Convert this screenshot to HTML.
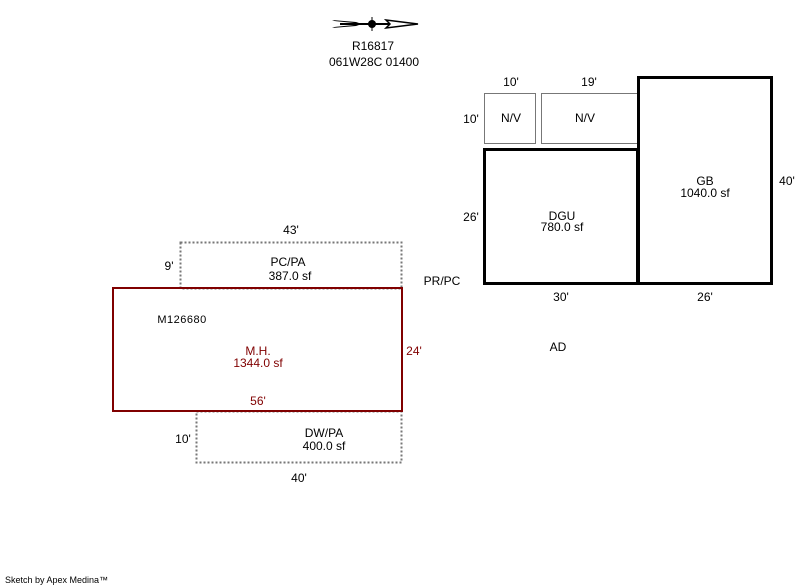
<!DOCTYPE html>
<html><head><meta charset="utf-8"><style>
html,body{margin:0;padding:0;background:#fff;}
svg{display:block;}
text{font-family:"Liberation Sans",sans-serif;font-size:12px;fill:#000;}
</style></head><body>
<svg width="800" height="587" viewBox="0 0 800 587" xmlns="http://www.w3.org/2000/svg">
<!-- north arrow -->
<g>
<path d="M332,20 L356,22 L362,24 L356,26 L332,28 L342,24 Z" fill="#000"/>
<path d="M334,21 L354,23 L354,25 L334,27 L340,24Z" fill="#fff"/>
<line x1="340" y1="24" x2="400" y2="24" stroke="#000" stroke-width="2"/>
<circle cx="372" cy="24" r="4" fill="#000"/>
<line x1="372" y1="17" x2="372" y2="31" stroke="#000" stroke-width="1"/>
<path d="M386,20 L418,24 L386,28 L390,24 Z" fill="#fff" stroke="#000" stroke-width="1.5"/>
</g>
<text x="373" y="50" text-anchor="middle">R16817</text>
<text x="374" y="66" text-anchor="middle">061W28C 01400</text>

<!-- PC/PA -->
<rect x="180.5" y="242.5" width="221" height="46" fill="none" stroke="#777" stroke-width="2" stroke-dasharray="2,2"/>
<text x="291" y="234" text-anchor="middle">43'</text>
<text x="169" y="270" text-anchor="middle">9'</text>
<text x="288" y="266" text-anchor="middle">PC/PA</text>
<text x="290" y="280" text-anchor="middle">387.0 sf</text>
<text x="442" y="285" text-anchor="middle">PR/PC</text>

<!-- DW/PA -->
<rect x="196.5" y="411.5" width="205" height="51" fill="none" stroke="#777" stroke-width="2" stroke-dasharray="2,2"/>
<text x="324" y="437" text-anchor="middle">DW/PA</text>
<text x="324" y="450" text-anchor="middle">400.0 sf</text>
<text x="183" y="443" text-anchor="middle">10'</text>
<text x="299" y="482" text-anchor="middle">40'</text>

<!-- M.H. -->
<rect x="113" y="288" width="289" height="123" fill="none" stroke="#800000" stroke-width="2"/>
<text x="182" y="323" text-anchor="middle" style="font-size:11px;letter-spacing:0.5px">M126680</text>
<text x="258" y="355" text-anchor="middle" style="fill:#800000">M.H.</text>
<text x="258" y="367" text-anchor="middle" style="fill:#800000">1344.0 sf</text>
<text x="414" y="355" text-anchor="middle" style="fill:#800000">24'</text>
<text x="258" y="405" text-anchor="middle" style="fill:#800000">56'</text>

<!-- N/V -->
<rect x="484.5" y="93.5" width="51" height="50" fill="none" stroke="#777" stroke-width="1"/>
<rect x="541.5" y="93.5" width="97" height="50" fill="none" stroke="#777" stroke-width="1"/>
<text x="511" y="86" text-anchor="middle">10'</text>
<text x="589" y="86" text-anchor="middle">19'</text>
<text x="471" y="123" text-anchor="middle">10'</text>
<text x="511" y="122" text-anchor="middle">N/V</text>
<text x="585" y="122" text-anchor="middle">N/V</text>

<!-- DGU -->
<rect x="484.5" y="149.5" width="153" height="134" fill="none" stroke="#000" stroke-width="3"/>
<text x="562" y="220" text-anchor="middle">DGU</text>
<text x="562" y="231" text-anchor="middle">780.0 sf</text>
<text x="471" y="221" text-anchor="middle">26'</text>
<text x="561" y="301" text-anchor="middle">30'</text>

<!-- GB -->
<rect x="638.5" y="77.5" width="133" height="206" fill="none" stroke="#000" stroke-width="3"/>
<text x="705" y="185" text-anchor="middle">GB</text>
<text x="705" y="197" text-anchor="middle">1040.0 sf</text>
<text x="787" y="185" text-anchor="middle">40'</text>
<text x="705" y="301" text-anchor="middle">26'</text>

<text x="558" y="351" text-anchor="middle">AD</text>
<text x="5" y="583" style="font-size:9px">Sketch by Apex Medina™</text>
</svg>
</body></html>
